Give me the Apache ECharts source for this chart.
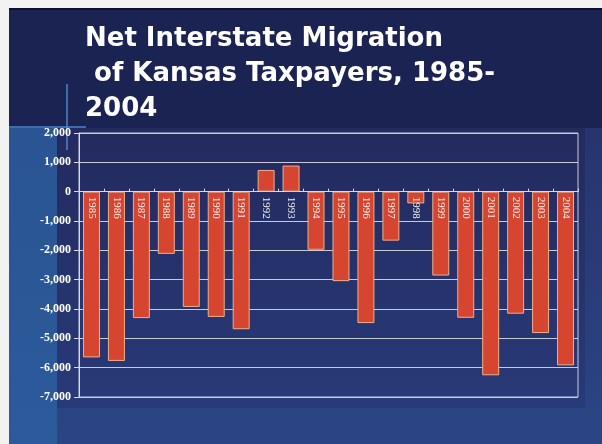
<!DOCTYPE html>
<html>
<head>
<meta charset="utf-8">
<script src="https://cdn.jsdelivr.net/npm/echarts@6/dist/echarts.min.js"></script>
<style>
  html, body { margin: 0; padding: 0; background: #f2f2f2; }
  #chart { width: 602px; height: 444px; }
</style>
</head>
<body>
<div id="chart"></div>
<script>
// Net interstate migration of Kansas taxpayers by year
const years = ['1985','1986','1987','1988','1989','1990','1991','1992','1993','1994',
               '1995','1996','1997','1998','1999','2000','2001','2002','2003','2004'];
const netMigration = [-5650, -5770, -4310, -2120, -3930, -4270, -4690, 740, 890, -1980,
                      -3050, -4480, -1670, -400, -2860, -4300, -6260, -4160, -4820, -5920];
const yTicks = { min: -7000, max: 2000, step: 1000 };
const titleLines = ['Net Interstate Migration', ' of Kansas Taxpayers, 1985-', '2004'];

const chartW = 602, chartH = 444;
const gridBox = { left: 79, right: 24, top: 133, bottom: 47 };
// the category axis sits on the zero line: shift it up from the grid bottom
const plotH = chartH - gridBox.top - gridBox.bottom;
const zeroOffset = -plotH * (0 - yTicks.min) / (yTicks.max - yTicks.min);

const chart = echarts.init(document.getElementById('chart'), null, { renderer: 'canvas' });

function withCommas(v) {
  const s = Math.abs(v).toString().replace(/\B(?=(\d{3})+(?!\d))/g, ',');
  return (v < 0 ? '-' : '') + s;
}

chart.setOption({
  backgroundColor: '#f2f2f2',
  animation: false,
  graphic: [
    // slide background
    { type: 'rect', z: -10, shape: { x: 9, y: 8, width: 593, height: 436 }, style: { fill: '#1b2352' } },
    { type: 'rect', z: -10, shape: { x: 9, y: 8, width: 593, height: 2 }, style: { fill: '#0c1028' } },
    { type: 'rect', z: -9, shape: { x: 9, y: 128, width: 593, height: 316 },
      style: { fill: new echarts.graphic.LinearGradient(0, 0, 0, 1, [
        { offset: 0, color: '#27346e' }, { offset: 1, color: '#2b4584' }]) } },
    { type: 'rect', z: -9, shape: { x: 9, y: 128, width: 48, height: 316 },
      style: { fill: new echarts.graphic.LinearGradient(0, 0, 0, 1, [
        { offset: 0, color: '#2a5494' }, { offset: 1, color: '#2c5a9a' }]) } },
    { type: 'rect', z: -9, shape: { x: 57, y: 128, width: 528, height: 280 },
      style: { fill: new echarts.graphic.LinearGradient(0, 0, 0, 1, [
        { offset: 0, color: '#232a5e' }, { offset: 1, color: '#283a78' }]) } },
    // thin accent lines
    { type: 'line', z: -8, shape: { x1: 9, y1: 127, x2: 86, y2: 127 }, style: { stroke: '#4b86cc', lineWidth: 1.5 } },
    { type: 'line', z: -8, shape: { x1: 67, y1: 84, x2: 67, y2: 150 }, style: { stroke: '#4b86cc', lineWidth: 1.5 } },
    // title
    {
      type: 'text', left: 85, top: 22, z: 10,
      style: {
        text: titleLines.join('\n'),
        fill: '#ffffff',
        font: 'bold 26px "DejaVu Sans", Verdana, sans-serif',
        lineHeight: 35
      }
    }
  ],
  grid: {
    left: gridBox.left, right: gridBox.right, top: gridBox.top, bottom: gridBox.bottom,
    show: true,
    backgroundColor: 'transparent',
    borderColor: '#c9ccd8',
    borderWidth: 1
  },
  xAxis: {
    type: 'category',
    data: years,
    position: 'bottom',
    offset: zeroOffset,
    axisLine: { onZero: false, lineStyle: { color: '#d8dae4', width: 1 } },
    axisTick: { show: true, inside: true, length: 3, lineStyle: { color: '#d8dae4' } },
    axisLabel: {
      rotate: -90,
      margin: 5,
      color: '#f4f0f0',
      fontFamily: '"Liberation Serif", "Times New Roman", serif',
      fontSize: 11,
      interval: 0
    },
    splitLine: { show: false },
    z: 5
  },
  yAxis: {
    type: 'value',
    min: yTicks.min,
    max: yTicks.max,
    interval: yTicks.step,
    axisLine: { show: true, lineStyle: { color: '#d8dae4' } },
    axisTick: { show: true, length: 5, lineStyle: { color: '#d8dae4' } },
    axisLabel: {
      color: '#ffffff',
      fontFamily: '"Liberation Serif", "Times New Roman", serif',
      fontWeight: 'bold',
      fontSize: 12,
      margin: 8,
      formatter: withCommas
    },
    splitLine: { show: true, lineStyle: { color: '#c9ccd8', width: 1.2 } }
  },
  series: [{
    type: 'bar',
    data: netMigration,
    barCategoryGap: '32%',
    itemStyle: {
      color: '#d6452f',
      borderColor: '#eeb08a',
      borderWidth: 1
    },
    z: 2
  }]
});
</script>
</body>
</html>
